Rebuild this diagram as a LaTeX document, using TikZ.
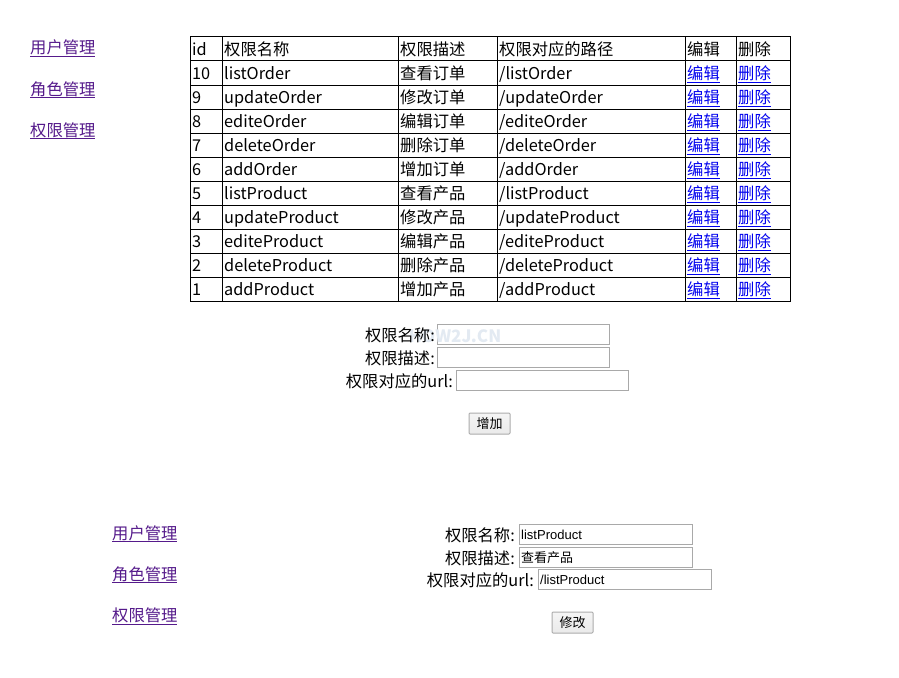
\documentclass[tikz,border=0pt]{standalone}
\usepackage{fontspec}
\setmainfont{Noto Sans CJK SC}
\newfontfamily\arialfont{Liberation Sans}
\definecolor{visited}{HTML}{551A8B}
\definecolor{linkblue}{HTML}{0000EE}
\definecolor{boxgray}{HTML}{A9A9A9}
\definecolor{btnborder}{HTML}{ACACAC}
\definecolor{btnfill}{HTML}{EAEAEA}
\definecolor{wmark}{HTML}{E3EAF2}
\newcommand\ulk[1]{\setbox0\hbox{#1}\rlap{\rule[-3pt]{\wd0}{1pt}}\box0}
\begin{document}
\begin{tikzpicture}[x=1pt,y=-1pt,
  txt/.style={anchor=base west,inner sep=0pt,font=\fontsize{16.3}{16}\selectfont},
  lbl/.style={anchor=base east,inner sep=0pt,font=\fontsize{16.3}{16}\selectfont},
  navlink/.style={txt,text=visited},
  tlink/.style={txt,text=linkblue},
  inbox/.style={draw=boxgray,line width=1pt,fill=white},
  intext/.style={anchor=base west,inner sep=0pt,font=\fontsize{13}{13}\selectfont},
  btn/.style={draw=btnborder,line width=1pt,top color=white!96!black,bottom color=btnfill,rounded corners=1pt,font=\fontsize{13}{13}\selectfont,inner sep=0pt},
  grid/.style={draw=black,line width=1pt}]
\useasboundingbox[fill=white] (0,0) rectangle (899,677);

% top navigation
\node[navlink] (n1) at (30,54) {\ulk{用户管理}};
\node[navlink] (n2) at (30,95) {\ulk{角色管理}};
\node[navlink] (n3) at (30,136) {\ulk{权限管理}};

% table grid
\draw[grid] (190,37) rectangle (790,301);
\foreach \yy in {61,85,...,277} \draw[grid] (190,\yy) -- (790,\yy);
\foreach \xx in {222,398,497,685,736} \draw[grid] (\xx,37) -- (\xx,301);

% header
\node[txt] (h1) at (192,55.5) {id};
\node[txt] (h2) at (224,55.5) {权限名称};
\node[txt] (h3) at (400,55.5) {权限描述};
\node[txt] (h4) at (499,55.5) {权限对应的路径};
\node[txt] (h5) at (687,55.5) {编辑};
\node[txt] (h6) at (738,55.5) {删除};

% rows
\foreach \id/\nm/\ds/\pth [count=\r] in {
  10/listOrder/查看订单/listOrder,
  9/updateOrder/修改订单/updateOrder,
  8/editeOrder/编辑订单/editeOrder,
  7/deleteOrder/删除订单/deleteOrder,
  6/addOrder/增加订单/addOrder,
  5/listProduct/查看产品/listProduct,
  4/updateProduct/修改产品/updateProduct,
  3/editeProduct/编辑产品/editeProduct,
  2/deleteProduct/删除产品/deleteProduct,
  1/addProduct/增加产品/addProduct}{
  \pgfmathsetmacro\by{55.5+24*\r}
  \node[txt] (id\r) at (192,\by) {\id};
  \node[txt] (nm\r) at (224,\by) {\nm};
  \node[txt] (ds\r) at (400,\by) {\ds};
  \node[txt] (pt\r) at (499,\by) {/\pth};
  \node[tlink] (ed\r) at (687,\by) {\ulk{编辑}};
  \node[tlink] (de\r) at (738,\by) {\ulk{删除}};
}

% add form
\draw[inbox] (437,324) rectangle (609,344);
\draw[inbox] (437,347) rectangle (609,367);
\draw[inbox] (456,370) rectangle (628,390);
\node[anchor=center,inner sep=0pt,text=wmark,font=\fontsize{17}{17}\selectfont\bfseries] (wm) at (455,336) {HOW2J.CN};
\node[lbl] (a1) at (435,341) {权限名称:};
\node[lbl] (a2) at (435,364) {权限描述:};
\node[lbl] (a3) at (453,387) {权限对应的url:};
\node[btn,minimum width=41pt,minimum height=21pt] (addbtn) at (489.5,423.5) {增加};

% bottom navigation
\node[navlink] (m1) at (112,539) {\ulk{用户管理}};
\node[navlink] (m2) at (112,580) {\ulk{角色管理}};
\node[navlink] (m3) at (112,621.5) {\ulk{权限管理}};

% edit form
\draw[inbox] (519,524) rectangle (692,544);
\draw[inbox] (519,547) rectangle (692,567);
\draw[inbox] (538,569) rectangle (711,589);
\node[lbl] (b1) at (515,541) {权限名称:};
\node[lbl] (b2) at (515,564) {权限描述:};
\node[lbl] (b3) at (534,586) {权限对应的url:};
\node[intext,font=\fontsize{13}{13}\arialfont] (v1) at (521,539) {listProduct};
\node[intext] (v2) at (521,562) {查看产品};
\node[intext,font=\fontsize{13}{13}\arialfont] (v3) at (540,584) {/listProduct};
\node[btn,minimum width=41pt,minimum height=21pt] (editbtn) at (572.5,622.5) {修改};
\end{tikzpicture}
\end{document}
